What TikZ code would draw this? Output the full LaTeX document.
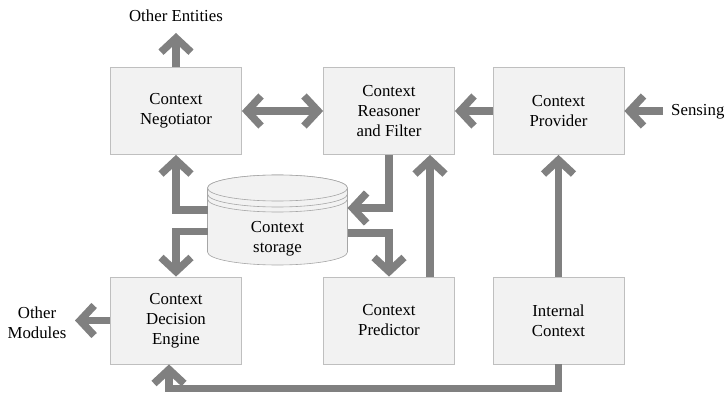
\documentclass[tikz,border=0pt]{standalone}
\usepackage{fontspec}
\setmainfont{Liberation Serif}
\usetikzlibrary{arrows.meta,calc}
\definecolor{arrgray}{HTML}{808080}
\definecolor{boxfill}{HTML}{F2F2F2}
\definecolor{boxline}{HTML}{BFBFBF}
\definecolor{dbline}{HTML}{A6A6A6}
\tikzset{
  blockbox/.style={draw=boxline, fill=boxfill, line width=0.8pt, minimum width=131pt, minimum height=87pt,
    align=center, inner sep=0pt, font=\fontsize{16.8}{20}\selectfont},
  lbl/.style={align=center, inner sep=0pt, font=\fontsize{16.8}{20}\selectfont},
  arr/.style={draw=arrgray, line width=7.5pt, -{Straight Barb[sharp, length=14pt, width=30pt]}},
  arrboth/.style={draw=arrgray, line width=7.5pt, {Straight Barb[sharp, length=14pt, width=30pt]}-{Straight Barb[sharp, length=14pt, width=30pt]}},
}
\begin{document}
\begin{tikzpicture}[x=1pt, y=-1pt]
\useasboundingbox (0,0) rectangle (726,393);
% boxes
\node[blockbox] (neg)  at (176,111)   {Context\\Negotiator};
\node[blockbox] (rea)  at (389,111)   {Context\\Reasoner\\and Filter};
\node[blockbox] (prov) at (558.5,111) {Context\\Provider};
\node[blockbox] (dec)  at (176,320.5) {Context\\Decision\\Engine};
\node[blockbox] (pred) at (389,320.5) {Context\\Predictor};
\node[blockbox] (int)  at (558.5,320.5) {Internal\\Context};
% labels
\node[lbl] (oe) at (176,16) {Other Entities};
\node[lbl] (om) at (37,323) {Other\\Modules};
\node[lbl, anchor=west] (sens) at (671,112) {Sensing};
\coordinate (oetip) at (176,33);
\coordinate (omtip) at (75,320.5);
\coordinate (senstart) at (663,111);
% storage cylinder
\coordinate (db) at (277.5,220);
\begin{scope}[draw=dbline, line width=0.6pt]
  \path[fill=boxfill, draw=dbline] (207.5,188) -- (207.5,252) arc[start angle=180, end angle=360, x radius=70, y radius=-13]
     -- (347.5,188) arc[start angle=0, end angle=180, x radius=70, y radius=-13] -- cycle;
  \path[fill=boxfill, draw=dbline] (277.5,188) ellipse[x radius=70, y radius=13];
  \draw (207.5,194) arc[start angle=180, end angle=360, x radius=70, y radius=-13];
  \draw (207.5,199) arc[start angle=180, end angle=360, x radius=70, y radius=-13];
\end{scope}
\node[lbl] (dbtext) at (277.5,239) {Context\\storage};
\coordinate (dbL1) at (207.5,210);
\coordinate (dbL2) at (207.5,231.5);
\coordinate (dbR1) at (347.5,208);
\coordinate (dbR2) at (347.5,233);
% connectors
\draw[arr] (neg.north) -- (oetip);
\draw[arrboth] (neg.east) -- (rea.west);
\draw[arr] (prov.west) -- (rea.east);
\draw[arr] (senstart) -- (prov.east);
\draw[arr] (dbL1) -| (neg.south);
\draw[arr] (dbL2) -| (dec.north);
\draw[arr] (rea.south) |- (dbR1);
\draw[arr] (dbR2) -| (pred.north);
\draw[arr] ([xshift=41pt]pred.north) -- ([xshift=41pt]rea.south);
\draw[arr] (int.north) -- (prov.south);
\draw[arr] (int.south) -- ++(0,24) -| ([xshift=-7pt]dec.south);
\draw[arr] (dec.west) -- (omtip);
\end{tikzpicture}
\end{document}
